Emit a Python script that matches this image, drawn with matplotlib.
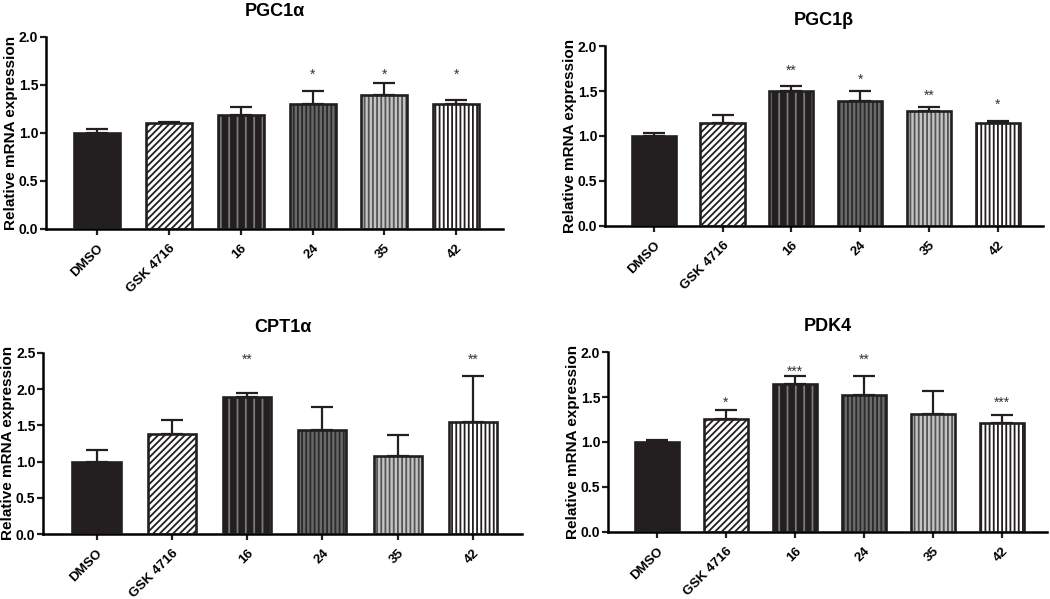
import matplotlib
matplotlib.use("Agg")
import matplotlib.pyplot as plt

plt.rcParams['font.family'] = ['Liberation Sans', 'DejaVu Sans']
plt.rcParams['hatch.linewidth'] = 1.3

categories = ["DMSO", "GSK 4716", "16", "24", "35", "42"]

titles = ["PGC1α", "PGC1β", "CPT1α", "PDK4"]

pgc1a_mean = [1.00, 1.10, 1.19, 1.295, 1.39, 1.295]
pgc1a_err = [0.035, 0.017, 0.075, 0.14, 0.13, 0.045]
pgc1a_stars = ["", "", "", "*", "*", "*"]
pgc1a_star_y = [0, 0, 0, 1.60, 1.60, 1.60]

pgc1b_mean = [1.00, 1.14, 1.495, 1.385, 1.275, 1.14]
pgc1b_err = [0.037, 0.09, 0.06, 0.12, 0.048, 0.032]
pgc1b_stars = ["", "", "**", "*", "**", "*"]
pgc1b_star_y = [0, 0, 1.73, 1.63, 1.45, 1.35]

cpt1a_mean = [0.99, 1.385, 1.89, 1.43, 1.075, 1.55]
cpt1a_err = [0.17, 0.19, 0.06, 0.32, 0.29, 0.63]
cpt1a_stars = ["", "", "**", "", "", "**"]
cpt1a_star_y = [0, 0, 2.40, 0, 0, 2.40]

pdk4_mean = [0.995, 1.255, 1.65, 1.52, 1.315, 1.215]
pdk4_err = [0.03, 0.10, 0.08, 0.22, 0.255, 0.08]
pdk4_stars = ["", "*", "***", "**", "", "***"]
pdk4_star_y = [0, 1.44, 1.78, 1.92, 0, 1.44]

ylims = [2.0, 2.0, 2.5, 2.0]
yticks_list = [[0.0, 0.5, 1.0, 1.5, 2.0], [0.0, 0.5, 1.0, 1.5, 2.0],
               [0.0, 0.5, 1.0, 1.5, 2.0, 2.5], [0.0, 0.5, 1.0, 1.5, 2.0]]

means = [pgc1a_mean, pgc1b_mean, cpt1a_mean, pdk4_mean]
errs = [pgc1a_err, pgc1b_err, cpt1a_err, pdk4_err]
stars = [pgc1a_stars, pgc1b_stars, cpt1a_stars, pdk4_stars]
star_ys = [pgc1a_star_y, pgc1b_star_y, cpt1a_star_y, pdk4_star_y]

# bar styles: (facecolor, hatch, hatch color)
styles = [
    ("#231f20", "", "#231f20"),
    ("white", "/////", "#231f20"),
    ("#231f20", "||", "#7a7a7a"),
    ("#6a6a6a", "||||", "#2a2a2a"),
    ("#c4c4c4", "||||", "#555555"),
    ("white", "||||", "#231f20"),
]

positions = [
    [0.0438, 0.618, 0.4352, 0.3207],
    [0.576, 0.623, 0.417, 0.300],
    [0.041, 0.1085, 0.456, 0.3025],
    [0.579, 0.1124, 0.418, 0.2996],
]

fig = plt.figure(figsize=(10.5, 5.99), dpi=100)
x = list(range(len(categories)))
for i in range(4):
    ax = fig.add_axes(positions[i])
    for j in x:
        fc, hatch, hc = styles[j]
        ax.bar(j, means[i][j], width=0.64, color=fc, edgecolor=hc, hatch=hatch,
               linewidth=0, zorder=2)
        ax.bar(j, means[i][j], width=0.64, fill=False, edgecolor="#231f20",
               linewidth=1.9, zorder=3)
    ax.errorbar(x, means[i], yerr=[[0]*len(x), errs[i]], fmt='none',
                ecolor="#231f20", elinewidth=1.6, capsize=8, capthick=1.6, zorder=1)
    for j in x:
        if stars[i][j]:
            ax.text(j, star_ys[i][j], stars[i][j], ha='center', va='center',
                    fontsize=10, color="#333333")
    ax.set_xlim(-0.71, len(categories) - 1 + 0.65)
    ax.set_ylim(0, ylims[i])
    ax.set_yticks(yticks_list[i])
    ax.set_yticklabels([f"{v:.1f}" for v in yticks_list[i]], fontweight='bold', fontsize=10)
    ax.set_xticks(x)
    ax.set_xticklabels(categories, rotation=45, ha='right', rotation_mode='anchor',
                       fontweight='bold', fontsize=9.6)
    ax.spines['top'].set_visible(False)
    ax.spines['right'].set_visible(False)
    ax.spines['left'].set_linewidth(1.8)
    ax.spines['bottom'].set_linewidth(1.8)
    ax.tick_params(axis='both', width=1.6, color="#231f20")
    ax.tick_params(axis='y', length=4.5, pad=1)
    ax.tick_params(axis='x', length=4.5, pad=5)
    ax.set_ylabel("Relative mRNA expression", fontweight='bold', fontsize=11, labelpad=0.5)
    ax.set_title(titles[i], fontweight='bold', fontsize=13, pad=15)

fig.savefig("out.png", dpi=100)
